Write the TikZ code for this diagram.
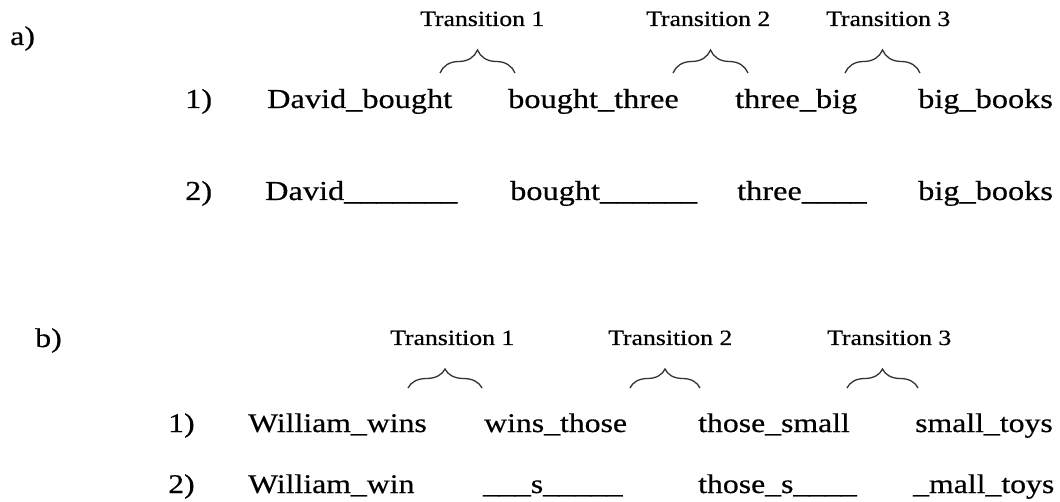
\documentclass[tikz,border=0pt]{standalone}
\usepackage{fontspec}
\setmainfont{Liberation Serif}[FakeStretch=1.18, FakeBold=0.5]
\usetikzlibrary{decorations.pathreplacing}
\tikzset{
  worda/.style={anchor=base west, inner sep=0pt, font=\fontsize{27.4}{30}\selectfont},
  wordb/.style={anchor=base west, inner sep=0pt, font=\fontsize{26.9}{30}\selectfont},
  trans/.style={anchor=base west, inner sep=0pt, font=\fontsize{21.8}{24}\selectfont},
  part/.style={anchor=base west, inner sep=0pt, font=\fontsize{27}{30}\selectfont},
  tbrace/.style={draw=black!80, line width=1.3pt, decorate, decoration={brace, amplitude=#1}},
}
\begin{document}
\begin{tikzpicture}[x=1pt,y=-1pt]
\useasboundingbox (0,0) rectangle (1060,502);
% part a
\node[part] (pa) at (10,45) {a)};
\node[trans] (ta1) at (420,26) {Transition 1};
\node[trans] (ta2) at (646,26) {Transition 2};
\node[trans] (ta3) at (826,26) {Transition 3};
\coordinate (ba1l) at (440,73); \coordinate (ba1r) at (515,73);
\coordinate (ba2l) at (673,73); \coordinate (ba2r) at (748,73);
\coordinate (ba3l) at (845,73); \coordinate (ba3r) at (920,73);
\draw[tbrace=23pt] (ba1l) -- (ba1r);
\draw[tbrace=23pt] (ba2l) -- (ba2r);
\draw[tbrace=23pt] (ba3l) -- (ba3r);
\node[worda] (a1n) at (185,108) {1)};
\node[worda] (a1a) at (267,108) {David\_bought};
\node[worda] (a1b) at (508,108) {bought\_three};
\node[worda] (a1c) at (735,108) {three\_big};
\node[worda] (a1d) at (918,108) {big\_books};
\node[worda] (a2n) at (185,200) {2)};
\node[worda] (a2a) at (265,200) {David\_\_\_\_\_\_\_};
\node[worda] (a2b) at (510,200) {bought\_\_\_\_\_\_};
\node[worda] (a2c) at (737,200) {three\_\_\_\_};
\node[worda] (a2d) at (918,200) {big\_books};
% part b
\node[part] (pb) at (35,347) {b)};
\node[trans] (tb1) at (390,345) {Transition 1};
\node[trans] (tb2) at (608,345) {Transition 2};
\node[trans] (tb3) at (827,345) {Transition 3};
\coordinate (bb1l) at (408,388); \coordinate (bb1r) at (482,388);
\coordinate (bb2l) at (630,388); \coordinate (bb2r) at (700,388);
\coordinate (bb3l) at (847,388); \coordinate (bb3r) at (918,388);
\draw[tbrace=19pt] (bb1l) -- (bb1r);
\draw[tbrace=19pt] (bb2l) -- (bb2r);
\draw[tbrace=19pt] (bb3l) -- (bb3r);
\node[wordb] (b1n) at (168,432) {1)};
\node[wordb] (b1a) at (248,432) {William\_wins};
\node[wordb] (b1b) at (484,432) {wins\_those};
\node[wordb] (b1c) at (698,432) {those\_small};
\node[wordb] (b1d) at (915,432) {small\_toys};
\node[wordb] (b2n) at (168,493) {2)};
\node[wordb] (b2a) at (248,493) {William\_win};
\node[wordb] (b2b) at (483,493) {\_\_\_s\_\_\_\_\_};
\node[wordb] (b2c) at (698,493) {those\_s\_\_\_\_};
\node[wordb] (b2d) at (913,493) {\_mall\_toys};
\end{tikzpicture}
\end{document}
